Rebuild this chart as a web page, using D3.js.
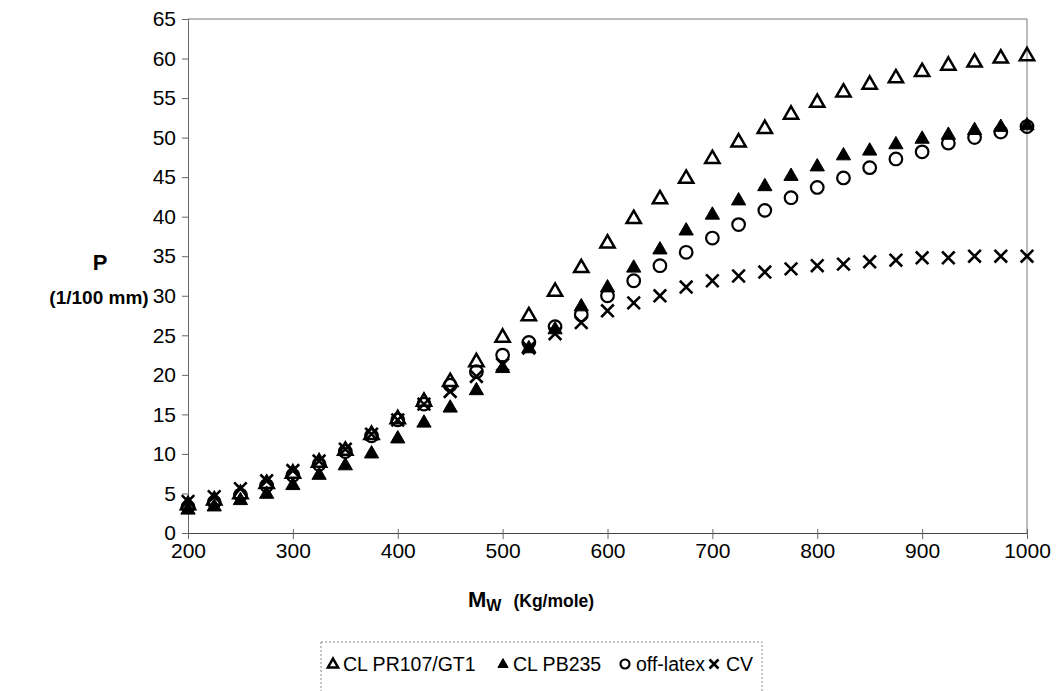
<!DOCTYPE html>
<html>
<head>
<meta charset="utf-8">
<script src="https://cdn.jsdelivr.net/npm/d3@7"></script>
<style>
  body { margin: 0; background: #fff; }
  svg { font-family: "Liberation Sans", Arial, sans-serif; }
</style>
</head>
<body>
<div class="canvas"></div>
<script>
// molecular weight (x values)
const mw = d3.range(200, 1001, 25);

// penetration values
const prGT1 = [3.6, 4.2, 5.0, 6.3, 7.6, 9.0, 10.5, 12.5, 14.5, 16.7, 19.2, 21.7, 24.8, 27.5, 30.6, 33.6, 36.7,
    39.8, 42.3, 44.9, 47.4, 49.5, 51.2, 53.0, 54.5, 55.8, 56.8, 57.6, 58.4, 59.2, 59.6, 60.1, 60.4];
const pb235 = [3.0, 3.4, 4.2, 5.0, 6.1, 7.4, 8.6, 10.1, 12.0, 14.0, 15.9, 18.1, 20.9, 23.4, 25.8, 28.7, 31.1,
    33.6, 35.9, 38.3, 40.3, 42.1, 43.9, 45.2, 46.4, 47.8, 48.4, 49.2, 49.9, 50.4, 51.0, 51.4, 51.6];
const offLatex = [3.3, 3.9, 4.8, 6.0, 7.3, 8.7, 10.3, 12.3, 14.3, 16.3, 18.7, 20.4, 22.5, 24.1, 26.1, 27.6, 30.0,
    31.9, 33.8, 35.5, 37.3, 39.0, 40.8, 42.4, 43.7, 44.9, 46.2, 47.3, 48.2, 49.3, 50.0, 50.7, 51.4];
const cv = [4.0, 4.6, 5.6, 6.6, 7.9, 9.1, 10.6, 12.5, 14.3, 16.3, 17.9, 19.8, 21.3, 23.4, 25.2, 26.6, 28.1,
    29.1, 30.0, 31.1, 31.9, 32.5, 33.0, 33.4, 33.8, 34.0, 34.3, 34.5, 34.8, 34.8, 35.0, 35.0, 35.0];

const xTicks = [200, 300, 400, 500, 600, 700, 800, 900, 1000];
const yTicks = d3.range(0, 66, 5);

const series = [
    { name: 'CL PR107/GT1', values: prGT1, marker: 'openTri' },
    { name: 'CL PB235', values: pb235, marker: 'fillTri' },
    { name: 'off-latex', values: offLatex, marker: 'circle' },
    { name: 'CV', values: cv, marker: 'cross' }
];

const dims = { width: 1058, height: 691 };
const plot = { left: 188, right: 1027, top: 19, bottom: 533 };

const svg = d3.select('.canvas')
    .append('svg')
    .attr('width', dims.width)
    .attr('height', dims.height);

const x = d3.scaleLinear().domain([200, 1000]).range([plot.left, plot.right]);
const y = d3.scaleLinear().domain([0, 65]).range([plot.bottom, plot.top]);

// frame (top + right)
svg.append('path')
    .attr('d', `M${plot.left},${plot.top}H${plot.right}V${plot.bottom}`)
    .attr('fill', 'none')
    .attr('stroke', '#777')
    .attr('stroke-width', 1);

// y axis
const yAxis = svg.append('g')
    .attr('transform', `translate(${plot.left},0)`)
    .call(d3.axisLeft(y).tickValues(yTicks).tickSize(6).tickPadding(6));
yAxis.select('.domain').attr('stroke', '#666');
yAxis.selectAll('.tick line').attr('stroke', '#666');
yAxis.selectAll('.tick text')
    .attr('font-size', 21)
    .attr('font-family', '"Liberation Sans", Arial, sans-serif')
    .attr('fill', '#000');

// x axis
const xAxis = svg.append('g')
    .attr('transform', `translate(0,${plot.bottom})`)
    .call(d3.axisBottom(x).tickValues(xTicks).tickFormat(d3.format('d')).tickSize(6).tickPadding(4));
xAxis.select('.domain').attr('stroke', '#444');
xAxis.selectAll('.tick line').attr('stroke', '#666').attr('y1', -4);
xAxis.selectAll('.tick text')
    .attr('font-size', 21)
    .attr('font-family', '"Liberation Sans", Arial, sans-serif')
    .attr('fill', '#000');

// markers
const triUp = d3.symbol().type(d3.symbolTriangle);
function drawMarker(g, type, size) {
    if (type === 'openTri' || type === 'fillTri') {
        g.append('path')
            .attr('d', triUp.size(size * size * 0.45)())
            .attr('transform', `translate(0,${size * 0.05})`)
            .attr('fill', type === 'fillTri' ? '#000' : 'none')
            .attr('stroke', '#000')
            .attr('stroke-width', type === 'fillTri' ? 1 : 2.5)
            .attr('stroke-linejoin', 'miter');
    } else if (type === 'circle') {
        g.append('circle')
            .attr('r', size * 0.45)
            .attr('fill', 'none')
            .attr('stroke', '#000')
            .attr('stroke-width', 2.2);
    } else {
        const h = size * 0.45;
        g.append('path')
            .attr('d', `M${-h},${-h}L${h},${h}M${-h},${h}L${h},${-h}`)
            .attr('stroke', '#000')
            .attr('stroke-width', 2.6);
    }
}

const pts = svg.append('g').attr('class', 'points');
series.forEach(s => {
    pts.selectAll(null)
        .data(s.values.map((v, i) => ({ x: mw[i], y: v })))
        .enter()
        .append('g')
        .attr('transform', d => `translate(${x(d.x)},${y(d.y)})`)
        .each(function () { drawMarker(d3.select(this), s.marker, 14); });
});

// axis titles
svg.append('text')
    .attr('x', 100).attr('y', 270)
    .attr('text-anchor', 'middle')
    .attr('font-size', 22).attr('font-weight', 'bold')
    .text('P');
svg.append('text')
    .attr('x', 99).attr('y', 304)
    .attr('text-anchor', 'middle')
    .attr('font-size', 19).attr('font-weight', 'bold')
    .text('(1/100 mm)');

const xt = svg.append('text')
    .attr('x', 468).attr('y', 607)
    .attr('font-weight', 'bold');
xt.append('tspan').attr('font-size', 22).text('M');
xt.append('tspan').attr('font-size', 16).attr('dy', 4).text('W');
xt.append('tspan').attr('font-size', 17.5).attr('dy', -4).attr('dx', 12).text('(Kg/mole)');

// legend
const legend = svg.append('g');
legend.append('rect')
    .attr('x', 321).attr('y', 642)
    .attr('width', 441).attr('height', 60)
    .attr('fill', 'none')
    .attr('stroke', '#888')
    .attr('stroke-dasharray', '2,2');

const legendPos = [
    { sym: 333, txt: 343 },
    { sym: 503, txt: 513 },
    { sym: 625, txt: 636 },
    { sym: 714, txt: 726 }
];
series.forEach((s, i) => {
    const g = legend.append('g').attr('transform', `translate(${legendPos[i].sym},664)`);
    drawMarker(g, s.marker, 10);
    legend.append('text')
        .attr('x', legendPos[i].txt).attr('y', 671)
        .attr('font-size', 19.5)
        .text(s.name);
});
</script>
</body>
</html>
